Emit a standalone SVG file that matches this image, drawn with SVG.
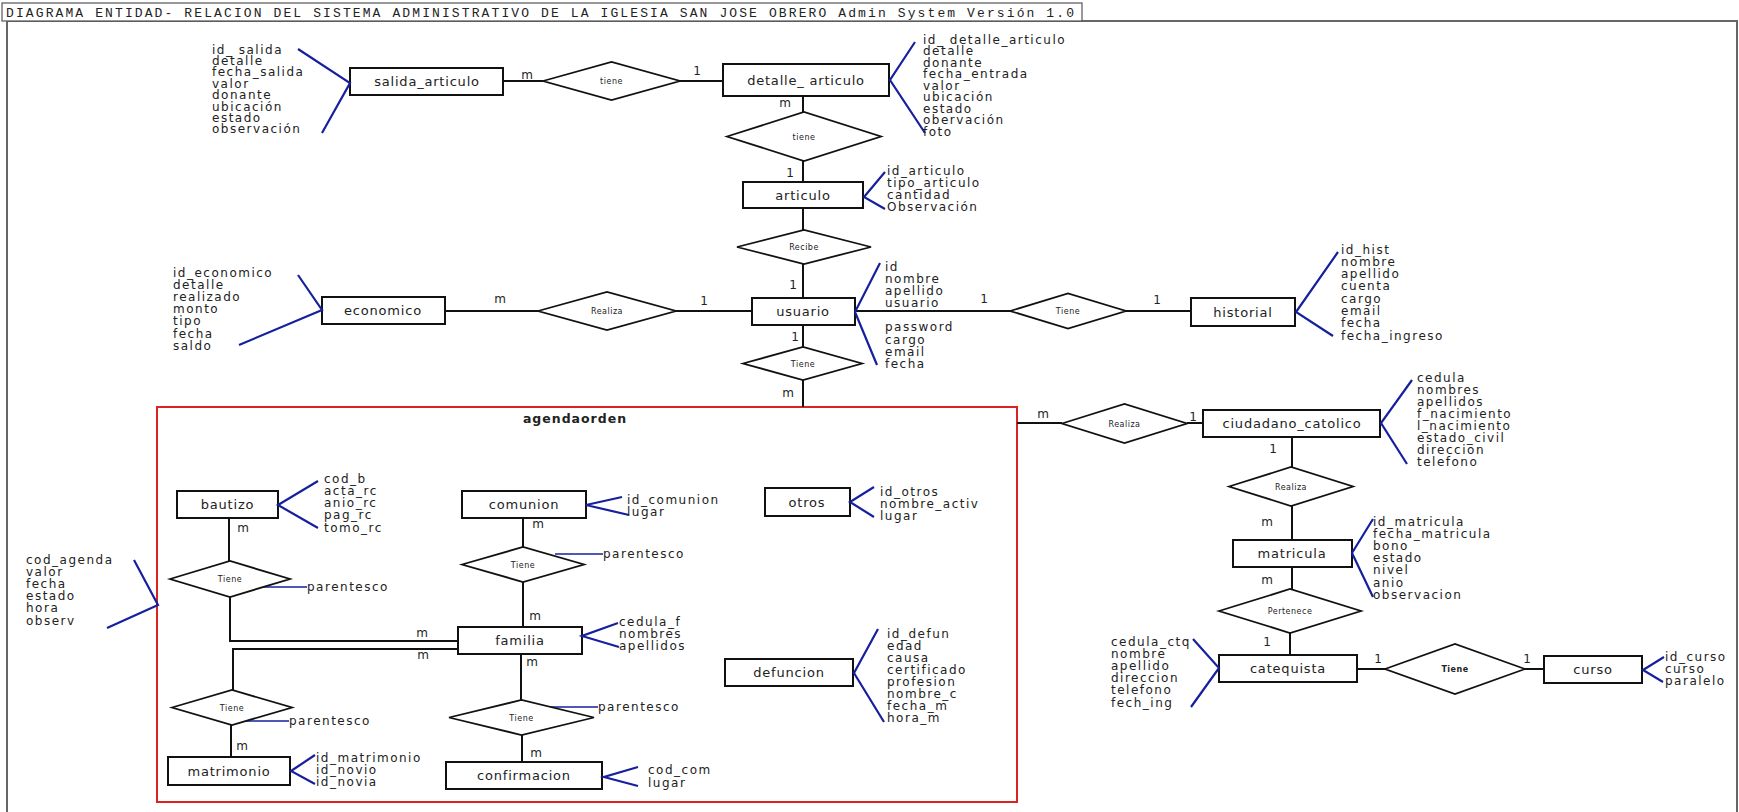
<svg xmlns="http://www.w3.org/2000/svg" width="1739" height="812" viewBox="0 0 1739 812">
<style>
.ent{fill:#fff;stroke:#111;stroke-width:2}
.rel{fill:#fff;stroke:#111;stroke-width:1.8}
.con{fill:none;stroke:#111;stroke-width:2}
.att{fill:none;stroke:#16209e;stroke-width:2.2}
.par{fill:none;stroke:#16209e;stroke-width:1.6}
text{font-family:"DejaVu Sans","Liberation Sans",sans-serif;fill:#222}
.a{font-size:12px;letter-spacing:1.5px}
.n{font-size:13px;letter-spacing:0.8px;text-anchor:middle}
.d{font-size:8px;letter-spacing:0.5px;text-anchor:middle}
.c{font-size:12px;text-anchor:middle}
</style>
<rect id="frame" x="7" y="21" width="1730" height="810" fill="#fff" stroke="#666" stroke-width="2"/>
<g id="title">
<rect x="2" y="3" width="1080" height="18" fill="#fff" stroke="#555" stroke-width="1.2"/>
<text x="6" y="16.5" style="font-family:'Liberation Mono',monospace;font-size:13px" textLength="1068" lengthAdjust="spacing">DIAGRAMA ENTIDAD- RELACION DEL SISTEMA ADMINISTRATIVO DE LA IGLESIA SAN JOSE OBRERO Admin System Versión 1.0</text>
</g>
<g id="agendaorden">
<rect x="157" y="407" width="860" height="395" fill="none" stroke="#dd2222" stroke-width="2"/>
<text x="575" y="423" style="font-size:12.5px;font-weight:bold;letter-spacing:1px" text-anchor="middle">agendaorden</text>
</g>
<g id="connectors">
<polyline class="con" points="503,81 543,81"/>
<polyline class="con" points="680,81 723,81"/>
<polyline class="con" points="803,96 803,112"/>
<polyline class="con" points="803,161 803,182"/>
<polyline class="con" points="803,208 803,230"/>
<polyline class="con" points="803,264 803,298"/>
<polyline class="con" points="445,311 538,311"/>
<polyline class="con" points="676,311 752,311"/>
<polyline class="con" points="855,311 1010,311"/>
<polyline class="con" points="1126,311 1191,311"/>
<polyline class="con" points="803,325 803,347"/>
<polyline class="con" points="803,380 803,407"/>
<polyline class="con" points="1017,423 1062,423"/>
<polyline class="con" points="1187,423 1203,423"/>
<polyline class="con" points="1292,437 1292,467"/>
<polyline class="con" points="1292,506 1292,540"/>
<polyline class="con" points="1292,567 1292,589"/>
<polyline class="con" points="1290,633 1290,655"/>
<polyline class="con" points="1357,669 1385,669"/>
<polyline class="con" points="1525,669 1544,669"/>
<polyline class="con" points="229,518 229,561"/>
<polyline class="con" points="230,597 230,641 458,641"/>
<polyline class="con" points="458,649 233,649 233,690"/>
<polyline class="con" points="231,725 231,757"/>
<polyline class="con" points="523,518 523,547"/>
<polyline class="con" points="523,582 523,627"/>
<polyline class="con" points="521,654 521,700"/>
<polyline class="con" points="522,735 522,762"/>
<polyline class="par" points="260,587 307,587"/>
<polyline class="par" points="555,554 603,554"/>
<polyline class="par" points="242,721 289,721"/>
<polyline class="par" points="550,707 598,707"/>
<g class="c">
<text x="527" y="79">m</text><text x="697" y="75">1</text>
<text x="785" y="107">m</text><text x="790" y="177">1</text>
<text x="793" y="289">1</text><text x="500" y="303">m</text>
<text x="704" y="305">1</text><text x="984" y="303">1</text>
<text x="1157" y="304">1</text><text x="795" y="341">1</text>
<text x="788" y="397">m</text><text x="1043" y="418">m</text>
<text x="1193" y="421">1</text><text x="1273" y="453">1</text>
<text x="1267" y="526">m</text><text x="1267" y="584">m</text>
<text x="1267" y="646">1</text><text x="1378" y="663">1</text>
<text x="1527" y="663">1</text>
<text x="243" y="532">m</text><text x="422" y="637">m</text>
<text x="423" y="659">m</text><text x="538" y="528">m</text>
<text x="535" y="620">m</text><text x="532" y="666">m</text>
<text x="242" y="750">m</text><text x="536" y="757">m</text>
</g>
<g class="a">
<text x="307" y="591">parentesco</text>
<text x="603" y="558">parentesco</text>
<text x="289" y="725">parentesco</text>
<text x="598" y="711">parentesco</text>
</g>
</g>
<g id="rel_tiene1"><polygon class="rel" points="543,81 611.5,62 680,81 611.5,100"/><text class="d" x="611.5" y="84">tiene</text></g>
<g id="rel_tiene2"><polygon class="rel" points="727,136.5 804,112 881,136.5 804,161"/><text class="d" x="804" y="139.5">tiene</text></g>
<g id="rel_recibe"><polygon class="rel" points="737,247 804,230 871,247 804,264"/><text class="d" x="804" y="250">Recibe</text></g>
<g id="rel_realiza1"><polygon class="rel" points="538,311 607,292 676,311 607,330"/><text class="d" x="607" y="314">Realiza</text></g>
<g id="rel_tiene_hist"><polygon class="rel" points="1010,311 1068,293.5 1126,311 1068,328.5"/><text class="d" x="1068" y="314">Tiene</text></g>
<g id="rel_tiene_agenda"><polygon class="rel" points="743,363.5 803,347 862,363.5 803,380"/><text class="d" x="803" y="366.5">Tiene</text></g>
<g id="rel_realiza2"><polygon class="rel" points="1062,423.5 1124.5,404 1187,423.5 1124.5,443"/><text class="d" x="1124.5" y="426.5">Realiza</text></g>
<g id="rel_realiza3"><polygon class="rel" points="1229,486.5 1291,467 1353,486.5 1291,506"/><text class="d" x="1291" y="489.5">Realiza</text></g>
<g id="rel_pertenece"><polygon class="rel" points="1219,611 1290,589 1361,611 1290,633"/><text class="d" x="1290" y="614">Pertenece</text></g>
<g id="rel_tiene_curso"><polygon class="rel" points="1385,669 1455,644 1525,669 1455,694"/><text class="d" x="1455" y="672" style="font-weight:bold">Tiene</text></g>
<g id="rel_tiene_bautizo"><polygon class="rel" points="170,579 230,561 290,579 230,597"/><text class="d" x="230" y="582">Tiene</text></g>
<g id="rel_tiene_comunion"><polygon class="rel" points="462,564.5 523,547 584,564.5 523,582"/><text class="d" x="523" y="567.5">Tiene</text></g>
<g id="rel_tiene_matrimonio"><polygon class="rel" points="172,707.5 232,690 292,707.5 232,725"/><text class="d" x="232" y="710.5">Tiene</text></g>
<g id="rel_tiene_confirmacion"><polygon class="rel" points="449,717.5 521.5,700 594,717.5 521.5,735"/><text class="d" x="521.5" y="720.5">Tiene</text></g>
<g id="salida_articulo">
<rect class="ent" x="350" y="68" width="153" height="27"/><text class="n" x="427" y="86">salida_articulo</text>
<polyline class="att" points="298,49 350,83 322,133"/>
<text class="a" x="212" y="53.5"><tspan x="212">id_ salida</tspan><tspan x="212" dy="11.4">detalle</tspan><tspan x="212" dy="11.4">fecha_salida</tspan><tspan x="212" dy="11.4">valor</tspan><tspan x="212" dy="11.4">donante</tspan><tspan x="212" dy="11.4">ubicación</tspan><tspan x="212" dy="11.4">estado</tspan><tspan x="212" dy="11.4">observación</tspan></text>
</g>
<g id="detalle_articulo">
<rect class="ent" x="723" y="64" width="166" height="32"/><text class="n" x="806" y="85">detalle_ articulo</text>
<polyline class="att" points="915,42 890,80 925,133"/>
<text class="a" x="923" y="43.5"><tspan x="923">id_ detalle_articulo</tspan><tspan x="923" dy="11.5">detalle</tspan><tspan x="923" dy="11.5">donante</tspan><tspan x="923" dy="11.5">fecha_entrada</tspan><tspan x="923" dy="11.5">valor</tspan><tspan x="923" dy="11.5">ubicación</tspan><tspan x="923" dy="11.5">estado</tspan><tspan x="923" dy="11.5">obervación</tspan><tspan x="923" dy="11.5">foto</tspan></text>
</g>
<g id="articulo">
<rect class="ent" x="743" y="182" width="120" height="26"/><text class="n" x="803" y="199.5">articulo</text>
<polyline class="att" points="885,172 864,197 885,209"/>
<text class="a" x="887" y="174.5"><tspan x="887">id_articulo</tspan><tspan x="887" dy="12.3">tipo_articulo</tspan><tspan x="887" dy="12.3">cantidad</tspan><tspan x="887" dy="12.3">Observación</tspan></text>
</g>
<g id="economico">
<rect class="ent" x="322" y="297" width="123" height="27"/><text class="n" x="383" y="315">economico</text>
<polyline class="att" points="298,275 322,310 239,345"/>
<text class="a" x="173" y="276.5"><tspan x="173">id_economico</tspan><tspan x="173" dy="12.2">detalle</tspan><tspan x="173" dy="12.2">realizado</tspan><tspan x="173" dy="12.2">monto</tspan><tspan x="173" dy="12.2">tipo</tspan><tspan x="173" dy="12.2">fecha</tspan><tspan x="173" dy="12.2">saldo</tspan></text>
</g>
<g id="usuario">
<rect class="ent" x="752" y="298" width="103" height="27"/><text class="n" x="803" y="316">usuario</text>
<polyline class="att" points="880,263 855,312 877,365"/>
<text class="a" x="885" y="270.5"><tspan x="885">id</tspan><tspan x="885" dy="12.3">nombre</tspan><tspan x="885" dy="12.3">apellido</tspan><tspan x="885" dy="12.3">usuario</tspan><tspan x="885" dy="24">password</tspan><tspan x="885" dy="12.3">cargo</tspan><tspan x="885" dy="12.3">email</tspan><tspan x="885" dy="12.3">fecha</tspan></text>
</g>
<g id="historial">
<rect class="ent" x="1191" y="298" width="104" height="28"/><text class="n" x="1243" y="316.5">historial</text>
<polyline class="att" points="1338,252 1296,312 1333,336"/>
<text class="a" x="1341" y="253.5"><tspan x="1341">id_hist</tspan><tspan x="1341" dy="12.3">nombre</tspan><tspan x="1341" dy="12.3">apellido</tspan><tspan x="1341" dy="12.3">cuenta</tspan><tspan x="1341" dy="12.3">cargo</tspan><tspan x="1341" dy="12.3">email</tspan><tspan x="1341" dy="12.3">fecha</tspan><tspan x="1341" dy="12.3">fecha_ingreso</tspan></text>
</g>
<g id="ciudadano_catolico">
<rect class="ent" x="1203" y="410" width="177" height="27"/><text class="n" x="1292" y="428">ciudadano_catolico</text>
<polyline class="att" points="1412,380 1381,423 1407,464"/>
<text class="a" x="1417" y="381.5"><tspan x="1417">cedula</tspan><tspan x="1417" dy="12.1">nombres</tspan><tspan x="1417" dy="12.1">apellidos</tspan><tspan x="1417" dy="12.1">f_nacimiento</tspan><tspan x="1417" dy="12.1">l_nacimiento</tspan><tspan x="1417" dy="12.1">estado_civil</tspan><tspan x="1417" dy="12.1">direccion</tspan><tspan x="1417" dy="12.1">telefono</tspan></text>
</g>
<g id="matricula">
<rect class="ent" x="1233" y="540" width="119" height="27"/><text class="n" x="1292" y="558">matricula</text>
<polyline class="att" points="1373,519 1352,553 1373,597"/>
<text class="a" x="1373" y="525.5"><tspan x="1373">id_matricula</tspan><tspan x="1373" dy="12.2">fecha_matricula</tspan><tspan x="1373" dy="12.2">bono</tspan><tspan x="1373" dy="12.2">estado</tspan><tspan x="1373" dy="12.2">nivel</tspan><tspan x="1373" dy="12.2">anio</tspan><tspan x="1373" dy="12.2">observacion</tspan></text>
</g>
<g id="catequista">
<rect class="ent" x="1219" y="655" width="138" height="27"/><text class="n" x="1288" y="673">catequista</text>
<polyline class="att" points="1193,639 1219,668 1191,707"/>
<text class="a" x="1111" y="645.5"><tspan x="1111">cedula_ctq</tspan><tspan x="1111" dy="12.2">nombre</tspan><tspan x="1111" dy="12.2">apellido</tspan><tspan x="1111" dy="12.2">direccion</tspan><tspan x="1111" dy="12.2">telefono</tspan><tspan x="1111" dy="12.2">fech_ing</tspan></text>
</g>
<g id="curso">
<rect class="ent" x="1544" y="656" width="98" height="27"/><text class="n" x="1593" y="674">curso</text>
<polyline class="att" points="1664,657 1643,670 1663,682"/>
<text class="a" x="1665" y="660.5"><tspan x="1665">id_curso</tspan><tspan x="1665" dy="12.3">curso</tspan><tspan x="1665" dy="12.3">paralelo</tspan></text>
</g>
<g id="bautizo">
<rect class="ent" x="177" y="491" width="101" height="27"/><text class="n" x="227.5" y="509">bautizo</text>
<polyline class="att" points="318,481 278,505 318,528"/>
<text class="a" x="324" y="482.5"><tspan x="324">cod_b</tspan><tspan x="324" dy="12.25">acta_rc</tspan><tspan x="324" dy="12.25">anio_rc</tspan><tspan x="324" dy="12.25">pag_rc</tspan><tspan x="324" dy="12.25">tomo_rc</tspan></text>
</g>
<g id="agenda_atributos">
<polyline class="att" points="134,560 158,605 107,628"/>
<text class="a" x="26" y="563.5"><tspan x="26">cod_agenda</tspan><tspan x="26" dy="12.2">valor</tspan><tspan x="26" dy="12.2">fecha</tspan><tspan x="26" dy="12.2">estado</tspan><tspan x="26" dy="12.2">hora</tspan><tspan x="26" dy="12.2">observ</tspan></text>
</g>
<g id="comunion">
<rect class="ent" x="462" y="491" width="124" height="27"/><text class="n" x="524" y="509">comunion</text>
<polyline class="att" points="622,497 586,505 629,515"/>
<text class="a" x="627" y="503.5"><tspan x="627">id_comunion</tspan><tspan x="627" dy="12">lugar</tspan></text>
</g>
<g id="otros">
<rect class="ent" x="765" y="488" width="85" height="28"/><text class="n" x="807" y="506.5">otros</text>
<polyline class="att" points="874,487 850,502 874,517"/>
<text class="a" x="880" y="495.5"><tspan x="880">id_otros</tspan><tspan x="880" dy="12.3">nombre_activ</tspan><tspan x="880" dy="12.3">lugar</tspan></text>
</g>
<g id="familia">
<rect class="ent" x="458" y="627" width="124" height="27"/><text class="n" x="520" y="645">familia</text>
<polyline class="att" points="618,623 582,636 619,647"/>
<text class="a" x="619" y="625.5"><tspan x="619">cedula_f</tspan><tspan x="619" dy="12">nombres</tspan><tspan x="619" dy="12">apellidos</tspan></text>
</g>
<g id="defuncion">
<rect class="ent" x="725" y="659" width="128" height="27"/><text class="n" x="789" y="677">defuncion</text>
<polyline class="att" points="878,629 854,673 884,722"/>
<text class="a" x="887" y="637.5"><tspan x="887">id_defun</tspan><tspan x="887" dy="12.1">edad</tspan><tspan x="887" dy="12.1">causa</tspan><tspan x="887" dy="12.1">certificado</tspan><tspan x="887" dy="12.1">profesion</tspan><tspan x="887" dy="12.1">nombre_c</tspan><tspan x="887" dy="12.1">fecha_m</tspan><tspan x="887" dy="12.1">hora_m</tspan></text>
</g>
<g id="matrimonio">
<rect class="ent" x="168" y="757" width="122" height="28"/><text class="n" x="229" y="775.5">matrimonio</text>
<polyline class="att" points="315,755 291,771 315,784"/>
<text class="a" x="316" y="761.5"><tspan x="316">id_matrimonio</tspan><tspan x="316" dy="12">id_novio</tspan><tspan x="316" dy="12">id_novia</tspan></text>
</g>
<g id="confirmacion">
<rect class="ent" x="446" y="762" width="156" height="27"/><text class="n" x="524" y="780">confirmacion</text>
<polyline class="att" points="638,767 604,777 638,786"/>
<text class="a" x="648" y="773.5"><tspan x="648">cod_com</tspan><tspan x="648" dy="13">lugar</tspan></text>
</g>
</svg>
